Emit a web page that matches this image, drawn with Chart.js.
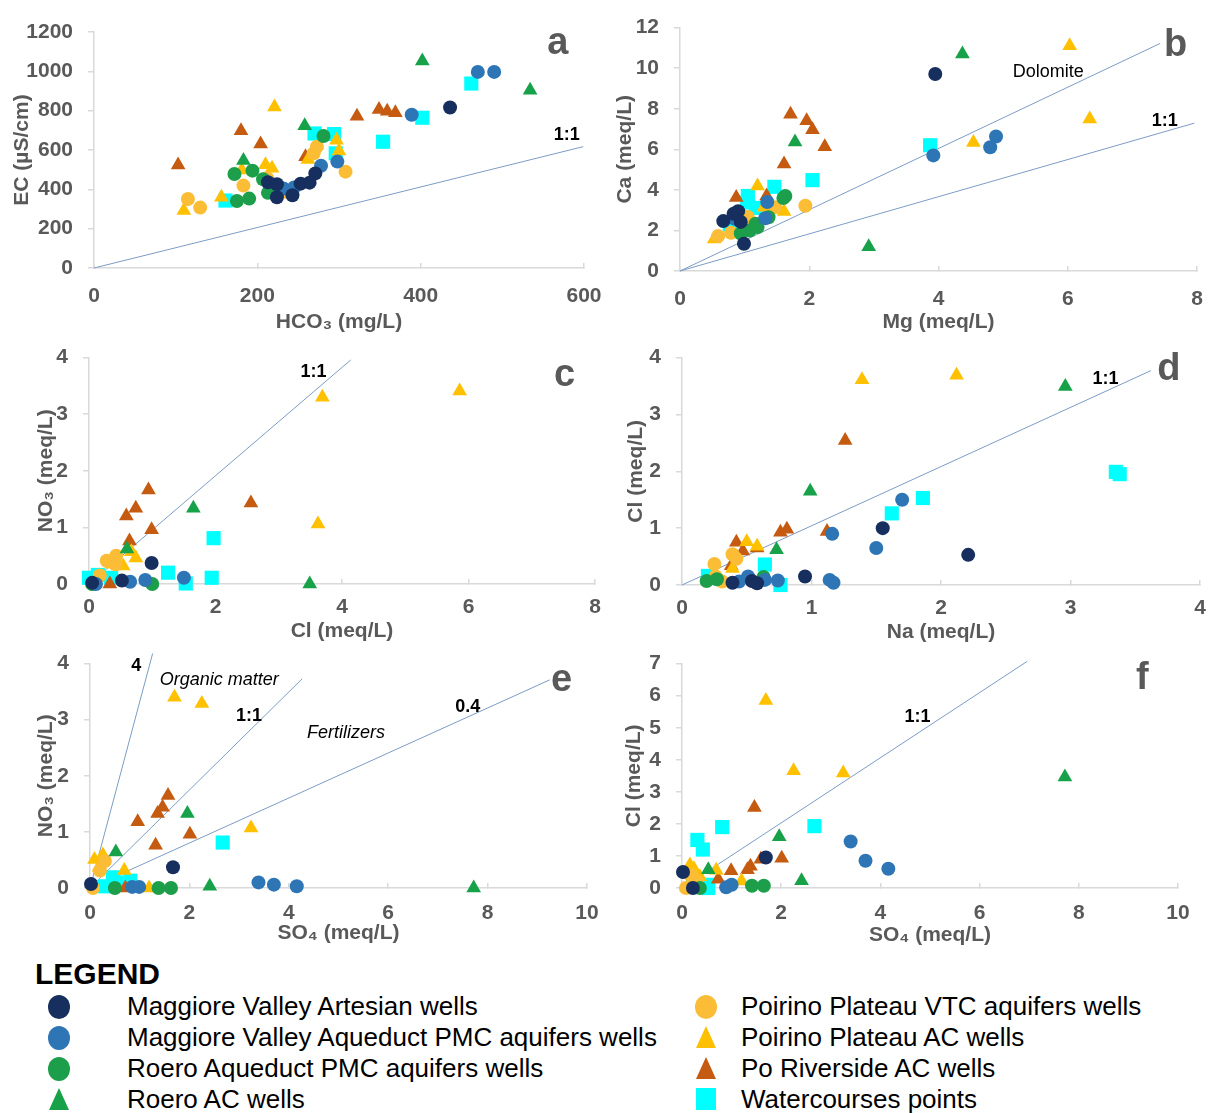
<!DOCTYPE html>
<html>
<head>
<meta charset="utf-8">
<script src="https://cdn.jsdelivr.net/npm/chart.js@4.4.1/dist/chart.umd.min.js"></script>
<style>
  body { margin: 0; background: #fff; width: 1209px; height: 1113px; position: relative; overflow: hidden;
         font-family: "Liberation Sans", Arial, Helvetica, sans-serif; }
  canvas { position: absolute; }
  .lg-title { position: absolute; left: 35px; top: 957px; font-size: 30px; font-weight: bold; color: #000; }
  .lg-item { position: absolute; height: 31px; line-height: 31px; font-size: 26px; color: #000; white-space: nowrap; }
  .lg-mark { position: absolute; top: 4px; }
</style>
</head>
<body>
<div class="lg-title">LEGEND</div>
<script>
// groups (legend order)
const seriesNames = [
  'Maggiore Valley Artesian wells',
  'Maggiore Valley Aqueduct PMC aquifers wells',
  'Roero Aqueduct PMC aquifers wells',
  'Roero AC wells',
  'Poirino Plateau VTC aquifers wells',
  'Poirino Plateau AC wells',
  'Po Riverside AC wells',
  'Watercourses points'
];
const seriesColors = ['#172f5f', '#2e75b6', '#1d9e4b', '#17a24a', '#fbbd35', '#ffc000', '#c55a11', '#00ffff'];
const seriesShapes = ['circle', 'circle', 'circle', 'triangle', 'circle', 'triangle', 'triangle', 'rect'];

// a: HCO3 (mg/L) vs EC (uS/cm)
const a_art = [[213,436],[224,360],[224,426],[243,370],[253,429],[264,434],[271,481],[436,816]];
const a_aqu = [[232,404],[245,409],[278,520],[298,541],[389,779],[470,997],[490,997]];
const a_rpm = [[172,478],[175,341],[190,353],[194,495],[207,451],[213,382],[281,671]];
const a_rac = [[183,546],[258,723],[402,1052],[534,904]];
const a_vtc = [[115,351],[130,307],[183,419],[212,456],[235,388],[269,583],[273,617],[308,490]];
const a_pac = [[110,292],[156,360],[181,498],[210,525],[218,507],[221,819],[262,552],[297,650],[300,595]];
const a_po  = [[103,524],[180,698],[204,630],[259,566],[322,772],[349,806],[359,797],[369,789]];
const a_wat = [[161,343],[270,684],[294,681],[296,583],[354,642],[402,764],[462,938]];

// b: Mg vs Ca (meq/L)
const b_art = [[0.67,2.46],[0.83,2.82],[0.9,2.95],[0.94,2.42],[0.99,1.34],[3.95,9.71]];
const b_aqu = [[0.84,2.58],[1.32,2.6],[1.35,3.4],[3.92,5.7],[4.8,6.1],[4.89,6.63]];
const b_rpm = [[0.94,1.85],[1.08,2.0],[1.17,2.33],[1.2,2.17],[1.37,2.65],[1.6,3.6],[1.63,3.7]];
const b_rac = [[0.96,1.93],[1.78,6.36],[2.92,1.2],[4.37,10.7]];
const b_vtc = [[0.59,1.72],[0.79,1.88],[0.93,2.82],[1.05,2.66],[1.47,3.14],[1.94,3.22]];
const b_pac = [[0.53,1.58],[0.9,2.82],[1.2,4.19],[1.3,3.14],[1.61,2.93],[4.54,6.34],[6.03,11.11],[6.34,7.49]];
const b_po  = [[0.87,3.62],[1.32,2.66],[1.34,3.7],[1.61,5.27],[1.71,7.73],[1.96,7.41],[2.05,6.96],[2.24,6.12]];
const b_wat = [[0.77,2.29],[1.04,3.38],[1.05,3.7],[1.17,3.11],[1.46,4.15],[2.05,4.48],[3.87,6.2]];

// c: Cl vs NO3 (meq/L)
const c_art = [[0.05,0.02],[0.52,0.06],[0.99,0.37]];
const c_aqu = [[0.11,0.0],[0.65,0.04],[0.89,0.07],[1.5,0.11]];
const c_rpm = [[0.05,0.0],[1.0,0.0]];
const c_rac = [[0.6,0.62],[1.65,1.34],[3.49,0.0]];
const c_vtc = [[0.05,0.0],[0.17,0.15],[0.28,0.41],[0.42,0.35],[0.43,0.5]];
const c_pac = [[0.36,0.35],[0.54,0.32],[0.67,0.57],[0.74,0.46],[3.62,1.06],[3.69,3.3],[5.86,3.41]];
const c_po  = [[0.33,0.0],[0.59,1.2],[0.64,0.76],[0.74,1.34],[0.94,1.66],[0.99,0.96],[2.56,1.43]];
const c_wat = [[0.0,0.11],[0.14,0.16],[0.35,0.11],[1.25,0.2],[1.53,0.01],[1.94,0.11],[1.97,0.81]];

// d: Na vs Cl (meq/L)
const d_art = [[0.39,0.04],[0.54,0.07],[0.58,0.03],[0.95,0.15],[1.55,1.0],[2.21,0.53]];
const d_aqu = [[0.44,0.06],[0.51,0.15],[0.64,0.09],[0.74,0.08],[1.14,0.09],[1.16,0.9],[1.17,0.04],[1.5,0.65],[1.7,1.5]];
const d_rpm = [[0.19,0.07],[0.27,0.1],[0.63,0.14]];
const d_rac = [[0.73,0.62],[0.99,1.65],[2.96,3.49]];
const d_vtc = [[0.25,0.37],[0.26,0.15],[0.31,0.06],[0.39,0.54],[0.42,0.46]];
const d_pac = [[0.39,0.29],[0.5,0.76],[0.58,0.68],[1.39,3.61],[2.12,3.69]];
const d_po  = [[0.38,0.34],[0.42,0.75],[0.47,0.6],[0.58,0.65],[0.76,0.93],[0.81,0.98],[1.12,0.94],[1.26,2.54]];
const d_wat = [[0.2,0.16],[0.64,0.36],[0.76,0.0],[1.62,1.26],[1.86,1.53],[3.35,1.99],[3.38,1.95]];

// e: SO4 vs NO3 (meq/L)
const e_art = [[0.02,0.07],[1.67,0.37]];
const e_aqu = [[0.85,0.02],[0.99,0.02],[3.39,0.1],[3.7,0.06],[4.16,0.03]];
const e_rpm = [[0.5,0.0],[1.38,0.0],[1.63,0.0]];
const e_rac = [[0.52,0.64],[1.96,1.33],[2.41,0.03],[7.72,0.0]];
const e_vtc = [[0.06,0.0],[0.2,0.31],[0.3,0.48]];
const e_pac = [[0.09,0.51],[0.18,0.37],[0.26,0.59],[0.69,0.31],[1.19,0.0],[1.7,3.4],[2.25,3.29],[3.24,1.07]];
const e_po  = [[0.71,0.0],[0.96,1.18],[1.32,0.76],[1.36,1.33],[1.46,1.44],[1.57,1.65],[2.01,0.96]];
const e_wat = [[0.3,0.03],[0.46,0.19],[0.53,0.1],[0.81,0.13],[2.67,0.81]];

// f: SO4 vs Cl (meq/L)
const f_art = [[0.02,0.5],[0.22,0.0],[1.69,0.95]];
const f_aqu = [[0.89,0.02],[1.0,0.1],[3.4,1.45],[3.7,0.85],[4.16,0.6]];
const f_rpm = [[0.36,0.0],[1.41,0.07],[1.65,0.07]];
const f_rac = [[0.53,0.57],[1.96,1.6],[2.41,0.23],[7.72,3.46]];
const f_vtc = [[0.08,0.0],[0.18,0.4],[0.3,0.2]];
const f_pac = [[0.16,0.72],[0.24,0.6],[0.36,0.35],[0.69,0.55],[1.2,0.22],[1.69,5.85],[2.25,3.66],[3.25,3.59]];
const f_po  = [[0.73,0.27],[0.99,0.54],[1.32,0.57],[1.38,0.68],[1.59,0.9],[2.01,0.93],[1.46,2.51]];
const f_wat = [[0.22,0.3],[0.31,1.5],[0.42,1.2],[0.52,0.1],[0.53,0.0],[0.81,1.9],[2.67,1.93]];

// reference lines from the origin: end points
const a_lines = [[599,617]];
const b_lines = [[7.43,11.22],[7.96,7.29]];
const c_lines = [[4.14,3.96]];
const d_lines = [[3.62,3.77]];
const e_lines = [[1.26,4.18],[4.27,3.73],[9.25,3.71]];
const f_lines = [[6.96,7.07]];

const FONT = '"Liberation Sans", Arial, Helvetica, sans-serif';
const GREY = '#595959';
const AXIS = '#d9d9d9';
const REF = '#7c9cc6';
const B18 = 'bold 18px ' + FONT;
const LETTER = 'bold 38px ' + FONT;

// box: canvas left, top, height; area: plot left, top, right, bottom (page px)
const panels = [
  { box: [0, 0, 340], area: [94, 32, 584, 268], x: [0, 600, 200], y: [0, 1200, 200],
    xTitle: 'HCO₃ (mg/L)', yTitle: 'EC (µS/cm)', xTitleY: 322, yTitleX: 22, gap: 27,
    data: [a_art, a_aqu, a_rpm, a_rac, a_vtc, a_pac, a_po, a_wat], lines: a_lines,
    notes: [['1:1', 579, 676, B18, '#000'], ['a', 568, 1143, LETTER, GREY]] },
  { box: [604, 0, 340], area: [680, 22, 1197, 271], x: [0, 8, 2], y: [0, 12, 2],
    xTitle: 'Mg (meq/L)', yTitle: 'Ca (meq/L)', xTitleY: 322, yTitleX: 625, gap: 27,
    data: [b_art, b_aqu, b_rpm, b_rac, b_vtc, b_pac, b_po, b_wat], lines: b_lines,
    notes: [['Dolomite', 5.7, 9.82, '18px ' + FONT, '#000'], ['1:1', 7.5, 7.41, B18, '#000'], ['b', 7.67, 11.1, LETTER, GREY]] },
  { box: [0, 330, 315], area: [89, 344, 595, 584], x: [0, 8, 2], y: [0, 4, 1],
    xTitle: 'Cl (meq/L)', yTitle: 'NO₃ (meq/L)', xTitleY: 631, yTitleX: 46, gap: 22,
    data: [c_art, c_aqu, c_rpm, c_rac, c_vtc, c_pac, c_po, c_wat], lines: c_lines,
    notes: [['1:1', 3.55, 3.75, B18, '#000'], ['c', 7.52, 3.69, LETTER, GREY]] },
  { box: [604, 330, 315], area: [682, 346, 1200, 585], x: [0, 4, 1], y: [0, 4, 1],
    xTitle: 'Na (meq/L)', yTitle: 'Cl (meq/L)', xTitleY: 632, yTitleX: 636, gap: 22,
    data: [d_art, d_aqu, d_rpm, d_rac, d_vtc, d_pac, d_po, d_wat], lines: d_lines,
    notes: [['1:1', 3.27, 3.63, B18, '#000'], ['d', 3.76, 3.79, LETTER, GREY]] },
  { box: [0, 636, 314], area: [90, 652, 587, 888], x: [0, 10, 2], y: [0, 4, 1],
    xTitle: 'SO₄ (meq/L)', yTitle: 'NO₃ (meq/L)', xTitleY: 933, yTitleX: 46, gap: 24,
    data: [e_art, e_aqu, e_rpm, e_rac, e_vtc, e_pac, e_po, e_wat], lines: e_lines,
    notes: [['4', 0.93, 3.95, B18, '#000'], ['Organic matter', 2.6, 3.71, 'italic 18px ' + FONT, '#000'],
            ['1:1', 3.2, 3.06, B18, '#000'], ['Fertilizers', 5.15, 2.76, 'italic 18px ' + FONT, '#000'],
            ['0.4', 7.6, 3.22, B18, '#000'], ['e', 9.49, 3.7, LETTER, GREY]] },
  { box: [604, 636, 314], area: [682, 654, 1178, 888], x: [0, 10, 2], y: [0, 7, 1],
    xTitle: 'SO₄ (meq/L)', yTitle: 'Cl (meq/L)', xTitleY: 935, yTitleX: 634, gap: 24,
    data: [f_art, f_aqu, f_rpm, f_rac, f_vtc, f_pac, f_po, f_wat], lines: f_lines,
    notes: [['1:1', 4.75, 5.32, B18, '#000'], ['f', 9.28, 6.54, LETTER, GREY]] }
];

const radius = { circle: 7, triangle: 8.5, rect: 10 };
const TICK_FONT = { family: FONT, size: 21, weight: 'bold' };
const TITLE_LH = 21 * 1.2;
const RIGHT_ROOM = 60;

function makeChart(p) {
  const [bl, bt, bh] = p.box;
  const [L, T, R, B] = p.area;
  const bw = R + RIGHT_ROOM - bl;
  const cv = document.createElement('canvas');
  cv.width = bw;
  cv.height = bh;
  cv.style.left = bl + 'px';
  cv.style.top = bt + 'px';
  document.body.appendChild(cv);

  const datasets = p.data.map((pts, i) => ({
    label: seriesNames[i],
    data: pts.map(([x, y]) => ({ x, y })),
    pointStyle: seriesShapes[i],
    pointRadius: radius[seriesShapes[i]],
    backgroundColor: seriesColors[i],
    borderColor: seriesColors[i],
    borderWidth: 0,
    clip: false,
    order: 1
  }));
  p.lines.forEach(([x, y]) => datasets.push({
    data: [{ x: 0, y: 0 }, { x, y }],
    showLine: true,
    borderColor: REF,
    borderWidth: 1,
    pointRadius: 0,
    clip: false,
    order: 5
  }));

  const notes = {
    id: 'notes',
    afterDatasetsDraw(chart) {
      const { ctx, scales } = chart;
      ctx.save();
      ctx.textAlign = 'center';
      ctx.textBaseline = 'middle';
      p.notes.forEach(([text, x, y, font, color]) => {
        ctx.font = font;
        ctx.fillStyle = color;
        ctx.fillText(text, scales.x.getPixelForValue(x), scales.y.getPixelForValue(y));
      });
      ctx.restore();
    }
  };

  new Chart(cv, {
    type: 'scatter',
    data: { datasets },
    plugins: [notes],
    options: {
      responsive: false,
      animation: false,
      events: [],
      layout: { padding: { left: 0, top: T - bt, right: RIGHT_ROOM, bottom: 0 } },
      plugins: { legend: { display: false }, tooltip: { enabled: false } },
      scales: {
        x: {
          type: 'linear', min: p.x[0], max: p.x[1],
          ticks: { stepSize: p.x[2], color: GREY, font: TICK_FONT, padding: p.gap - 11.5 + 5, maxRotation: 0,
                   callback: v => String(v) },
          grid: { drawOnChartArea: false, color: AXIS, tickLength: -5, lineWidth: 1.5 },
          border: { color: AXIS, width: 1.5 },
          title: { display: true, text: p.xTitle, color: GREY, font: TICK_FONT,
                   padding: { top: 0, bottom: bt + bh - p.xTitleY - TITLE_LH / 2 } },
          afterFit: s => { s.height = bt + bh - B; }
        },
        y: {
          type: 'linear', min: p.y[0], max: p.y[1],
          ticks: { stepSize: p.y[2], color: GREY, font: TICK_FONT, padding: 15, callback: v => String(v) },
          grid: { drawOnChartArea: false, color: AXIS, tickLength: 6, lineWidth: 1.5 },
          border: { color: AXIS, width: 1.5 },
          title: { display: true, text: p.yTitle, color: GREY, font: TICK_FONT,
                   padding: { top: p.yTitleX - bl - TITLE_LH / 2, bottom: 0 } },
          afterFit: s => { s.width = L - bl; }
        }
      }
    }
  });
}

panels.forEach(makeChart);

// legend
const legendPos = [[0, 0], [0, 1], [0, 2], [0, 3], [1, 0], [1, 1], [1, 2], [1, 3]];
seriesNames.forEach((name, i) => {
  const [col, row] = legendPos[i];
  const item = document.createElement('div');
  item.className = 'lg-item';
  const markX = col ? 706 : 59;
  const textX = col ? 741 : 127;
  item.style.left = (markX - 12) + 'px';
  item.style.top = (1006 + row * 31 - 15) + 'px';
  item.style.paddingLeft = (textX - markX + 12) + 'px';
  item.textContent = name;
  const mk = document.createElement('span');
  mk.className = 'lg-mark';
  const c = seriesColors[i];
  if (seriesShapes[i] === 'circle') {
    mk.style.cssText = `left:1px;width:22px;height:24px;border-radius:50%;background:${c}`;
  } else if (seriesShapes[i] === 'triangle') {
    mk.style.cssText = `left:2px;width:0;height:0;border-left:10px solid transparent;border-right:10px solid transparent;border-bottom:22px solid ${c}`;
  } else {
    mk.style.cssText = `left:2px;width:20px;height:22px;background:${c}`;
  }
  item.appendChild(mk);
  document.body.appendChild(item);
});
</script>
</body>
</html>
